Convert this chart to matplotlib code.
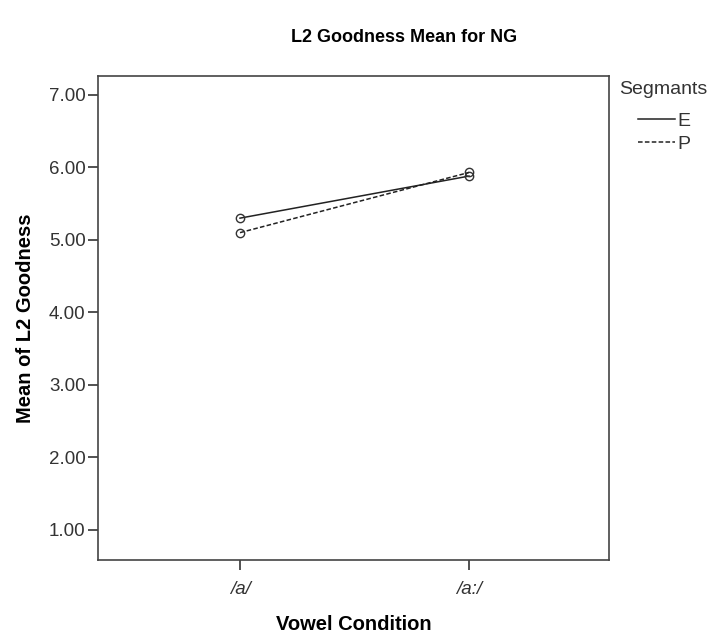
import matplotlib
matplotlib.use('Agg')
from matplotlib import pyplot as plt
from matplotlib.lines import Line2D

plt.rcParams['font.family'] = ['Liberation Sans', 'DejaVu Sans']

categories = ['/a/', '/a:/']
seg_names = ['E', 'P']
seg_e = [5.30, 5.88]
seg_p = [5.10, 5.93]
yticks = [1, 2, 3, 4, 5, 6, 7]

fig = plt.figure(figsize=(7.15, 6.32), dpi=100)
ax = fig.add_axes([98/715, 1-560/632, (609-98)/715, (560-76)/632])

dash = (0, (3, 1.5))
x = list(range(len(categories)))
ax.plot(x, seg_e, color='#222222', lw=1.1, ls='-', marker='o', ms=6,
        mfc='none', mec='#333333', mew=1.0)
ax.plot(x, seg_p, color='#222222', lw=1.1, ls=dash, marker='o', ms=6,
        mfc='none', mec='#333333', mew=1.0)

ax.set_xlim(-0.62, 1.611)
ax.set_ylim(0.586, 7.26)
ax.set_xticks(x)
ax.set_xticklabels(categories, style='italic')
ax.set_yticks(yticks)
ax.set_yticklabels(['%.2f' % v for v in yticks])
ax.tick_params(axis='both', direction='out', length=7, width=1.2, color='#333333',
               labelsize=13.5, labelcolor='#333333', pad=2)
ax.tick_params(axis='x', pad=8)
for s in ax.spines.values():
    s.set_color('#444444')
    s.set_linewidth(1.2)

ax.set_xlabel('Vowel Condition', fontsize=14.5, fontweight='bold', labelpad=12)
ax.set_ylabel('Mean of L2 Goodness', fontsize=14.5, fontweight='bold', labelpad=10)
fig.text(404/715, 1-38/632, 'L2 Goodness Mean for NG', ha='center', va='center',
         fontsize=13, fontweight='bold')

# legend: title on its own, entries indented under it
fig.text(619/715, 1-90/632, 'Segmants', ha='left', va='center',
         fontsize=14, color='#333333')
handles = [Line2D([], [], color='#222222', lw=1.1, ls='-'),
           Line2D([], [], color='#222222', lw=1.1, ls=dash)]
leg = fig.legend(handles, seg_names, loc='upper left',
                 bbox_to_anchor=(638/715, 1-112/632), frameon=False,
                 fontsize=14, handlelength=1.9, handletextpad=0.1,
                 labelspacing=0.3, borderpad=0, borderaxespad=0)
for t in leg.get_texts():
    t.set_color('#333333')

fig.savefig('out.png', dpi=100)
